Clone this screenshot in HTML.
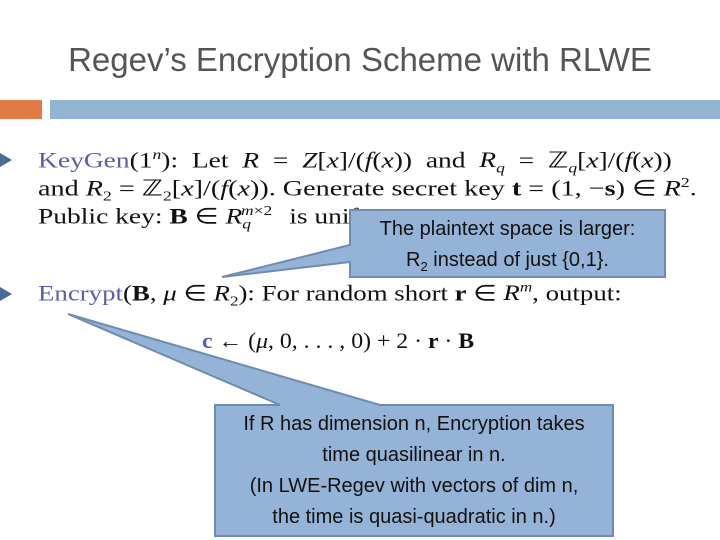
<!DOCTYPE html>
<html><head><meta charset="utf-8"><style>
body{margin:0;width:720px;height:540px;background:#fff;position:relative;overflow:hidden;font-family:"Liberation Serif",serif}
.t{position:absolute;white-space:nowrap;font-size:22px;color:#111;line-height:1;transform-origin:0 0}
.b{color:#5a5fa8}
.bul{position:absolute;left:0;width:0;height:0;border-left:12px solid #4a6a9a;border-top:7px solid transparent;border-bottom:7px solid transparent}
.c{position:absolute;font-family:"Liberation Sans",sans-serif;font-size:20px;color:#111;text-align:center;line-height:31px}
</style></head><body>
<div style="position:absolute;left:0;top:41px;width:720px;text-align:center;font-family:'Liberation Sans',sans-serif;font-size:33px;color:#555">Regev’s Encryption Scheme with RLWE</div>
<div style="position:absolute;left:0;top:100px;width:42px;height:19px;background:#e07b45"></div>
<div style="position:absolute;left:50px;top:100px;width:670px;height:19px;background:#93b3d3"></div>
<div class="bul" style="top:153px"></div>
<div class="t" style="left:38px;top:149px;transform:scaleX(1.25)"><span class="b">KeyGen</span>(1<sup style="font-size:14px"><i>n</i></sup>): &nbsp;Let &nbsp;<i>R</i> &nbsp;= &nbsp;<i>Z</i>[<i>x</i>]/(<i>f</i>(<i>x</i>)) &nbsp;and &nbsp;<i>R<sub style="font-size:14px">q</sub></i> &nbsp;= &nbsp;ℤ<sub style="font-size:14px"><i>q</i></sub>[<i>x</i>]/(<i>f</i>(<i>x</i>))</div>
<div class="t" style="left:38px;top:177px;transform:scaleX(1.28)">and <i>R</i><sub style="font-size:14px">2</sub> = ℤ<sub style="font-size:14px">2</sub>[<i>x</i>]/(<i>f</i>(<i>x</i>)). Generate secret key <b>t</b> = (1, −<b>s</b>) ∈ <i>R</i><sup style="font-size:14px">2</sup>.</div>
<div class="t" style="left:38px;top:205px;transform:scaleX(1.25)">Public key: <b>B</b> ∈ <i>R</i><sub style="font-size:14px"><i>q</i></sub><sup style="font-size:14px;position:relative;left:-8px"><i>m</i>×2</sup> is unifo</div>
<div class="bul" style="top:287px"></div>
<div class="t" style="left:38px;top:282px;transform:scaleX(1.22)"><span class="b">Encrypt</span>(<b>B</b>, <i>μ</i> ∈ <i>R</i><sub style="font-size:14px">2</sub>): For random short <b>r</b> ∈ <i>R<sup style="font-size:14px">m</sup></i>, output:</div>
<div class="t" style="left:202px;top:330px;transform:scaleX(1.08)"><b class="b">c</b> ← (<i>μ</i>, 0, . . . , 0) + 2 · <b>r</b> · <b>B</b></div>
<svg width="720" height="540" style="position:absolute;left:0;top:0">
<polygon points="350,210 665,210 665,277 350,277 350,262 222,277 350,245" fill="#95b3d7" stroke="#6e8caf" stroke-width="2"/>
<polygon points="215,405 280,405 68,314 380,405 613,405 613,536 215,536" fill="#95b3d7" stroke="#6e8caf" stroke-width="2"/>
</svg>
<div class="c" style="left:350px;top:214px;width:315px">The plaintext space is larger:<br>R<sub style="font-size:13px">2</sub> instead of just {0,1}.</div>
<div class="c" style="left:215px;top:409px;width:398px">If R has dimension n, Encryption takes<br>time quasilinear in n.<br>(In LWE-Regev with vectors of dim n,<br>the time is quasi-quadratic in n.)</div>
</body></html>
